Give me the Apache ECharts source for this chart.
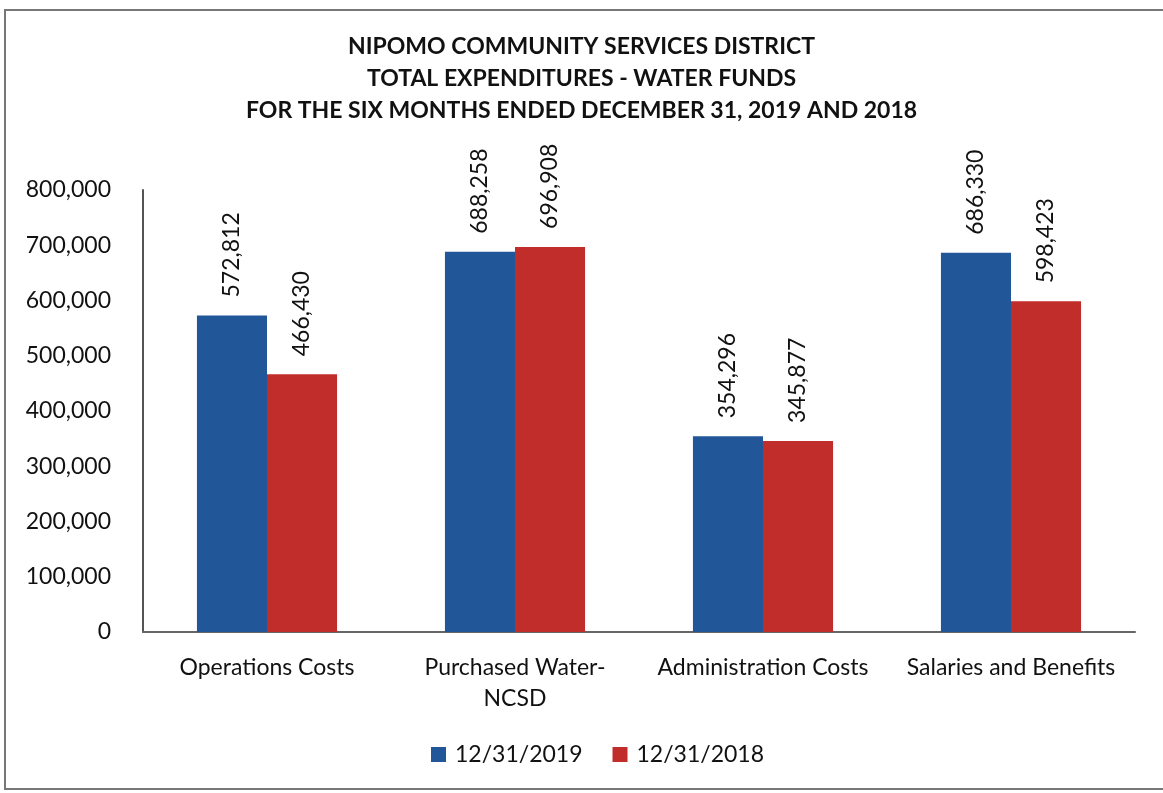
<!DOCTYPE html>
<html><head><meta charset="utf-8">
<script src="https://cdn.jsdelivr.net/npm/echarts@6/dist/echarts.min.js"></script>
<style>html,body{margin:0;padding:0;background:#fff;overflow:hidden}#frame{position:absolute;left:4px;top:9px;width:1180px;height:781px;border:2px solid #777;box-sizing:border-box}#c{width:1163px;height:793px;position:absolute;left:0;top:0}</style>
</head><body><div id="frame"></div><div id="c"></div>
<script>
const categories = ['Operations Costs', 'Purchased Water-\nNCSD', 'Administration Costs', 'Salaries and Benefits'];
const values2019 = [572812, 688258, 354296, 686330];
const values2018 = [466430, 696908, 345877, 598423];
const seriesNames = ['12/31/2019', '12/31/2018'];
const titleLines = ['NIPOMO COMMUNITY SERVICES DISTRICT', 'TOTAL EXPENDITURES - WATER FUNDS', 'FOR THE SIX MONTHS ENDED DECEMBER 31, 2019 AND 2018'];

const FONT = 'Lato, "Open Sans", sans-serif';
const fmt = v => v.toLocaleString('en-US');
const chart = echarts.init(document.getElementById('c'), null, {renderer: 'canvas'});
const label = {
  show: true, position: 'top', rotate: 90, align: 'left', verticalAlign: 'middle',
  distance: 18, fontFamily: FONT, fontSize: 23, color: '#111',
  formatter: p => fmt(p.value)
};
chart.setOption({
  animation: false,
  title: {
    text: titleLines.join('\n'), left: 'center', top: 26,
    textStyle: {fontFamily: FONT, fontWeight: 'bold', fontSize: 23, lineHeight: 32, color: '#111'}
  },
  legend: {
    bottom: 22, left: 426, itemWidth: 15, itemHeight: 15, itemGap: 30,
    icon: 'rect', textStyle: {fontFamily: FONT, fontSize: 23, color: '#111', padding: [0, 0, 0, 4]},
    data: seriesNames
  },
  grid: {left: 143, right: 28, top: 190, bottom: 161, containLabel: false},
  xAxis: {
    type: 'category', data: categories,
    axisLine: {lineStyle: {color: '#666', width: 2}},
    axisTick: {show: false},
    axisLabel: {fontFamily: FONT, fontSize: 23, color: '#111', margin: 20, lineHeight: 31, interval: 0}
  },
  yAxis: {
    type: 'value', min: 0, max: 800000, interval: 100000,
    axisLine: {show: true, lineStyle: {color: '#555', width: 2}},
    axisTick: {show: false},
    splitLine: {show: false},
    axisLabel: {fontFamily: FONT, fontSize: 23, color: '#111', margin: 32, formatter: v => fmt(v)}
  },
  series: [
    {name: seriesNames[0], type: 'bar', data: values2019, barGap: '0%', barCategoryGap: '43.5%',
     itemStyle: {color: '#215699'}, label: label},
    {name: seriesNames[1], type: 'bar', data: values2018, barGap: '0%', barCategoryGap: '43.5%',
     itemStyle: {color: '#c12d2a'}, label: label}
  ]
});
</script></body></html>
